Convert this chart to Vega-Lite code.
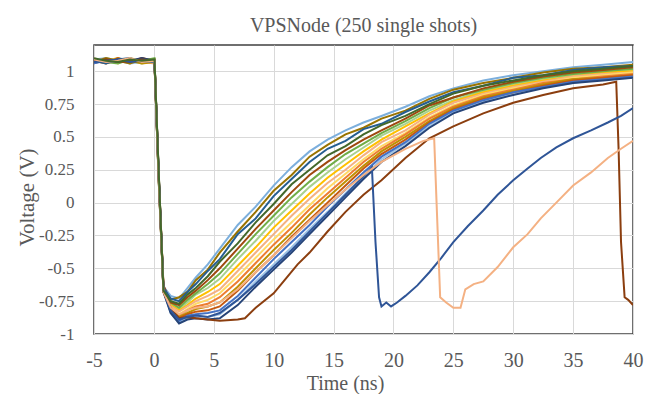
{
  "$schema": "https://vega.github.io/schema/vega-lite/v6.json",
  "autosize": {"type": "none"},
  "width": 539,
  "height": 289,
  "padding": {"left": 94, "top": 45, "right": 13, "bottom": 60},
  "background": "white",
  "title": {"text": "VPSNode (250 single shots)", "font": "Liberation Serif", "fontSize": 20, "fontWeight": "normal", "color": "#595959", "baseline": "alphabetic", "offset": 13, "dy": 20},
  "datasets": {
    "traces": [
      {"s":"s01","t":-5,"v":1.09},{"s":"s01","t":-4,"v":1.07},{"s":"s01","t":-3,"v":1.10},{"s":"s01","t":-2,"v":1.08},{"s":"s01","t":-1,"v":1.09},{"s":"s01","t":0.05,"v":1.08},{"s":"s01","t":0.4,"v":0.22},{"s":"s01","t":0.8,"v":-0.64},{"s":"s01","t":1.4,"v":-0.71},{"s":"s01","t":2.1,"v":-0.73},{"s":"s01","t":2.8,"v":-0.65},{"s":"s01","t":3.5,"v":-0.57},{"s":"s01","t":4.5,"v":-0.47},{"s":"s01","t":5.5,"v":-0.35},{"s":"s01","t":7,"v":-0.17},{"s":"s01","t":8.5,"v":-0.03},{"s":"s01","t":10,"v":0.13},{"s":"s01","t":11.5,"v":0.27},{"s":"s01","t":13,"v":0.39},{"s":"s01","t":14.5,"v":0.48},{"s":"s01","t":16,"v":0.55},{"s":"s01","t":17.5,"v":0.61},{"s":"s01","t":19,"v":0.66},{"s":"s01","t":21,"v":0.73},{"s":"s01","t":23,"v":0.81},{"s":"s01","t":25,"v":0.87},{"s":"s01","t":27.5,"v":0.93},{"s":"s01","t":30,"v":0.97},{"s":"s01","t":32.5,"v":1.00},{"s":"s01","t":35,"v":1.03},{"s":"s01","t":37.5,"v":1.05},{"s":"s01","t":40,"v":1.07},
      {"s":"s07","t":-5,"v":1.08},{"s":"s07","t":-4,"v":1.10},{"s":"s07","t":-3,"v":1.07},{"s":"s07","t":-2,"v":1.08},{"s":"s07","t":-1,"v":1.06},{"s":"s07","t":0.05,"v":1.08},{"s":"s07","t":0.4,"v":0.17},{"s":"s07","t":0.8,"v":-0.66},{"s":"s07","t":1.4,"v":-0.77},{"s":"s07","t":2.1,"v":-0.81},{"s":"s07","t":2.8,"v":-0.76},{"s":"s07","t":3.5,"v":-0.70},{"s":"s07","t":4.5,"v":-0.65},{"s":"s07","t":5.5,"v":-0.58},{"s":"s07","t":7,"v":-0.43},{"s":"s07","t":8.5,"v":-0.29},{"s":"s07","t":10,"v":-0.14},{"s":"s07","t":11.5,"v":-0.01},{"s":"s07","t":13,"v":0.12},{"s":"s07","t":14.5,"v":0.23},{"s":"s07","t":16,"v":0.33},{"s":"s07","t":17.5,"v":0.42},{"s":"s07","t":19,"v":0.51},{"s":"s07","t":21,"v":0.60},{"s":"s07","t":23,"v":0.70},{"s":"s07","t":25,"v":0.78},{"s":"s07","t":27.5,"v":0.85},{"s":"s07","t":30,"v":0.90},{"s":"s07","t":32.5,"v":0.94},{"s":"s07","t":35,"v":0.97},{"s":"s07","t":37.5,"v":1.00},{"s":"s07","t":40,"v":1.01},
      {"s":"s08","t":-5,"v":1.07},{"s":"s08","t":-4,"v":1.08},{"s":"s08","t":-3,"v":1.10},{"s":"s08","t":-2,"v":1.06},{"s":"s08","t":-1,"v":1.09},{"s":"s08","t":0.05,"v":1.08},{"s":"s08","t":0.4,"v":0.23},{"s":"s08","t":0.8,"v":-0.65},{"s":"s08","t":1.4,"v":-0.78},{"s":"s08","t":2.1,"v":-0.82},{"s":"s08","t":2.8,"v":-0.78},{"s":"s08","t":3.5,"v":-0.73},{"s":"s08","t":4.5,"v":-0.68},{"s":"s08","t":5.5,"v":-0.62},{"s":"s08","t":7,"v":-0.48},{"s":"s08","t":8.5,"v":-0.34},{"s":"s08","t":10,"v":-0.19},{"s":"s08","t":11.5,"v":-0.06},{"s":"s08","t":13,"v":0.07},{"s":"s08","t":14.5,"v":0.19},{"s":"s08","t":16,"v":0.29},{"s":"s08","t":17.5,"v":0.39},{"s":"s08","t":19,"v":0.48},{"s":"s08","t":21,"v":0.58},{"s":"s08","t":23,"v":0.68},{"s":"s08","t":25,"v":0.77},{"s":"s08","t":27.5,"v":0.84},{"s":"s08","t":30,"v":0.89},{"s":"s08","t":32.5,"v":0.93},{"s":"s08","t":35,"v":0.96},{"s":"s08","t":37.5,"v":0.99},{"s":"s08","t":40,"v":1.00},
      {"s":"s09","t":-5,"v":1.10},{"s":"s09","t":-4,"v":1.06},{"s":"s09","t":-3,"v":1.08},{"s":"s09","t":-2,"v":1.09},{"s":"s09","t":-1,"v":1.07},{"s":"s09","t":0.05,"v":1.06},{"s":"s09","t":0.4,"v":0.20},{"s":"s09","t":0.8,"v":-0.67},{"s":"s09","t":1.4,"v":-0.79},{"s":"s09","t":2.1,"v":-0.83},{"s":"s09","t":2.8,"v":-0.79},{"s":"s09","t":3.5,"v":-0.75},{"s":"s09","t":4.5,"v":-0.71},{"s":"s09","t":5.5,"v":-0.66},{"s":"s09","t":7,"v":-0.52},{"s":"s09","t":8.5,"v":-0.38},{"s":"s09","t":10,"v":-0.24},{"s":"s09","t":11.5,"v":-0.10},{"s":"s09","t":13,"v":0.03},{"s":"s09","t":14.5,"v":0.15},{"s":"s09","t":16,"v":0.25},{"s":"s09","t":17.5,"v":0.36},{"s":"s09","t":19,"v":0.46},{"s":"s09","t":21,"v":0.55},{"s":"s09","t":23,"v":0.67},{"s":"s09","t":25,"v":0.76},{"s":"s09","t":27.5,"v":0.83},{"s":"s09","t":30,"v":0.88},{"s":"s09","t":32.5,"v":0.92},{"s":"s09","t":35,"v":0.96},{"s":"s09","t":37.5,"v":0.98},{"s":"s09","t":40,"v":0.99},
      {"s":"s10","t":-5,"v":1.08},{"s":"s10","t":-4,"v":1.09},{"s":"s10","t":-3,"v":1.06},{"s":"s10","t":-2,"v":1.10},{"s":"s10","t":-1,"v":1.08},{"s":"s10","t":0.05,"v":1.09},{"s":"s10","t":0.4,"v":0.18},{"s":"s10","t":0.8,"v":-0.64},{"s":"s10","t":1.4,"v":-0.80},{"s":"s10","t":2.1,"v":-0.85},{"s":"s10","t":2.8,"v":-0.81},{"s":"s10","t":3.5,"v":-0.77},{"s":"s10","t":4.5,"v":-0.74},{"s":"s10","t":5.5,"v":-0.69},{"s":"s10","t":7,"v":-0.56},{"s":"s10","t":8.5,"v":-0.42},{"s":"s10","t":10,"v":-0.28},{"s":"s10","t":11.5,"v":-0.15},{"s":"s10","t":13,"v":-0.02},{"s":"s10","t":14.5,"v":0.11},{"s":"s10","t":16,"v":0.22},{"s":"s10","t":17.5,"v":0.33},{"s":"s10","t":19,"v":0.43},{"s":"s10","t":21,"v":0.53},{"s":"s10","t":23,"v":0.65},{"s":"s10","t":25,"v":0.74},{"s":"s10","t":27.5,"v":0.82},{"s":"s10","t":30,"v":0.87},{"s":"s10","t":32.5,"v":0.91},{"s":"s10","t":35,"v":0.95},{"s":"s10","t":37.5,"v":0.97},{"s":"s10","t":40,"v":0.99},
      {"s":"s15","t":-5,"v":1.09},{"s":"s15","t":-4,"v":1.10},{"s":"s15","t":-3,"v":1.08},{"s":"s15","t":-2,"v":1.06},{"s":"s15","t":-1,"v":1.07},{"s":"s15","t":0.05,"v":1.08},{"s":"s15","t":0.4,"v":0.20},{"s":"s15","t":0.8,"v":-0.66},{"s":"s15","t":1.4,"v":-0.84},{"s":"s15","t":2.1,"v":-0.91},{"s":"s15","t":2.8,"v":-0.88},{"s":"s15","t":3.5,"v":-0.86},{"s":"s15","t":4.5,"v":-0.87},{"s":"s15","t":5.5,"v":-0.85},{"s":"s15","t":7,"v":-0.74},{"s":"s15","t":8.5,"v":-0.60},{"s":"s15","t":10,"v":-0.47},{"s":"s15","t":11.5,"v":-0.34},{"s":"s15","t":13,"v":-0.20},{"s":"s15","t":14.5,"v":-0.07},{"s":"s15","t":16,"v":0.07},{"s":"s15","t":17.5,"v":0.20},{"s":"s15","t":19,"v":0.33},{"s":"s15","t":21,"v":0.45},{"s":"s15","t":23,"v":0.58},{"s":"s15","t":25,"v":0.69},{"s":"s15","t":27.5,"v":0.77},{"s":"s15","t":30,"v":0.83},{"s":"s15","t":32.5,"v":0.88},{"s":"s15","t":35,"v":0.91},{"s":"s15","t":37.5,"v":0.94},{"s":"s15","t":40,"v":0.95},
      {"s":"s11","t":-5,"v":1.09},{"s":"s11","t":-4,"v":1.07},{"s":"s11","t":-3,"v":1.09},{"s":"s11","t":-2,"v":1.07},{"s":"s11","t":-1,"v":1.10},{"s":"s11","t":0.05,"v":1.08},{"s":"s11","t":0.4,"v":0.22},{"s":"s11","t":0.8,"v":-0.66},{"s":"s11","t":1.4,"v":-0.81},{"s":"s11","t":2.1,"v":-0.86},{"s":"s11","t":2.8,"v":-0.82},{"s":"s11","t":3.5,"v":-0.79},{"s":"s11","t":4.5,"v":-0.77},{"s":"s11","t":5.5,"v":-0.72},{"s":"s11","t":7,"v":-0.60},{"s":"s11","t":8.5,"v":-0.46},{"s":"s11","t":10,"v":-0.32},{"s":"s11","t":11.5,"v":-0.19},{"s":"s11","t":13,"v":-0.05},{"s":"s11","t":14.5,"v":0.07},{"s":"s11","t":16,"v":0.19},{"s":"s11","t":17.5,"v":0.31},{"s":"s11","t":19,"v":0.41},{"s":"s11","t":21,"v":0.52},{"s":"s11","t":23,"v":0.64},{"s":"s11","t":25,"v":0.73},{"s":"s11","t":27.5,"v":0.81},{"s":"s11","t":30,"v":0.86},{"s":"s11","t":32.5,"v":0.91},{"s":"s11","t":35,"v":0.94},{"s":"s11","t":37.5,"v":0.96},{"s":"s11","t":40,"v":0.98},
      {"s":"s12","t":-5,"v":1.07},{"s":"s12","t":-4,"v":1.09},{"s":"s12","t":-3,"v":1.08},{"s":"s12","t":-2,"v":1.08},{"s":"s12","t":-1,"v":1.06},{"s":"s12","t":0.05,"v":1.07},{"s":"s12","t":0.4,"v":0.19},{"s":"s12","t":0.8,"v":-0.68},{"s":"s12","t":1.4,"v":-0.81},{"s":"s12","t":2.1,"v":-0.87},{"s":"s12","t":2.8,"v":-0.84},{"s":"s12","t":3.5,"v":-0.81},{"s":"s12","t":4.5,"v":-0.79},{"s":"s12","t":5.5,"v":-0.76},{"s":"s12","t":7,"v":-0.64},{"s":"s12","t":8.5,"v":-0.50},{"s":"s12","t":10,"v":-0.36},{"s":"s12","t":11.5,"v":-0.23},{"s":"s12","t":13,"v":-0.09},{"s":"s12","t":14.5,"v":0.04},{"s":"s12","t":16,"v":0.16},{"s":"s12","t":17.5,"v":0.28},{"s":"s12","t":19,"v":0.39},{"s":"s12","t":21,"v":0.50},{"s":"s12","t":23,"v":0.62},{"s":"s12","t":25,"v":0.72},{"s":"s12","t":27.5,"v":0.80},{"s":"s12","t":30,"v":0.85},{"s":"s12","t":32.5,"v":0.90},{"s":"s12","t":35,"v":0.94},{"s":"s12","t":37.5,"v":0.95},{"s":"s12","t":40,"v":0.97},
      {"s":"s13","t":-5,"v":1.08},{"s":"s13","t":-4,"v":1.06},{"s":"s13","t":-3,"v":1.10},{"s":"s13","t":-2,"v":1.07},{"s":"s13","t":-1,"v":1.09},{"s":"s13","t":0.05,"v":1.09},{"s":"s13","t":0.4,"v":0.21},{"s":"s13","t":0.8,"v":-0.65},{"s":"s13","t":1.4,"v":-0.82},{"s":"s13","t":2.1,"v":-0.88},{"s":"s13","t":2.8,"v":-0.85},{"s":"s13","t":3.5,"v":-0.83},{"s":"s13","t":4.5,"v":-0.82},{"s":"s13","t":5.5,"v":-0.79},{"s":"s13","t":7,"v":-0.67},{"s":"s13","t":8.5,"v":-0.53},{"s":"s13","t":10,"v":-0.40},{"s":"s13","t":11.5,"v":-0.26},{"s":"s13","t":13,"v":-0.13},{"s":"s13","t":14.5,"v":0.00},{"s":"s13","t":16,"v":0.13},{"s":"s13","t":17.5,"v":0.26},{"s":"s13","t":19,"v":0.37},{"s":"s13","t":21,"v":0.48},{"s":"s13","t":23,"v":0.61},{"s":"s13","t":25,"v":0.71},{"s":"s13","t":27.5,"v":0.79},{"s":"s13","t":30,"v":0.84},{"s":"s13","t":32.5,"v":0.89},{"s":"s13","t":35,"v":0.93},{"s":"s13","t":37.5,"v":0.95},{"s":"s13","t":40,"v":0.97},
      {"s":"s06","t":-5,"v":1.09},{"s":"s06","t":-4,"v":1.07},{"s":"s06","t":-3,"v":1.06},{"s":"s06","t":-2,"v":1.09},{"s":"s06","t":-1,"v":1.08},{"s":"s06","t":0.05,"v":1.10},{"s":"s06","t":0.4,"v":0.21},{"s":"s06","t":0.8,"v":-0.68},{"s":"s06","t":1.4,"v":-0.76},{"s":"s06","t":2.1,"v":-0.80},{"s":"s06","t":2.8,"v":-0.74},{"s":"s06","t":3.5,"v":-0.69},{"s":"s06","t":4.5,"v":-0.62},{"s":"s06","t":5.5,"v":-0.54},{"s":"s06","t":7,"v":-0.39},{"s":"s06","t":8.5,"v":-0.24},{"s":"s06","t":10,"v":-0.10},{"s":"s06","t":11.5,"v":0.04},{"s":"s06","t":13,"v":0.16},{"s":"s06","t":14.5,"v":0.27},{"s":"s06","t":16,"v":0.37},{"s":"s06","t":17.5,"v":0.45},{"s":"s06","t":19,"v":0.53},{"s":"s06","t":21,"v":0.62},{"s":"s06","t":23,"v":0.72},{"s":"s06","t":25,"v":0.80},{"s":"s06","t":27.5,"v":0.86},{"s":"s06","t":30,"v":0.91},{"s":"s06","t":32.5,"v":0.95},{"s":"s06","t":35,"v":0.98},{"s":"s06","t":37.5,"v":1.00},{"s":"s06","t":40,"v":1.02},
      {"s":"s02","t":-5,"v":1.07},{"s":"s02","t":-4,"v":1.10},{"s":"s02","t":-3,"v":1.08},{"s":"s02","t":-2,"v":1.06},{"s":"s02","t":-1,"v":1.09},{"s":"s02","t":0.05,"v":1.07},{"s":"s02","t":0.4,"v":0.18},{"s":"s02","t":0.8,"v":-0.66},{"s":"s02","t":1.4,"v":-0.74},{"s":"s02","t":2.1,"v":-0.72},{"s":"s02","t":2.8,"v":-0.68},{"s":"s02","t":3.5,"v":-0.59},{"s":"s02","t":4.5,"v":-0.51},{"s":"s02","t":5.5,"v":-0.38},{"s":"s02","t":7,"v":-0.22},{"s":"s02","t":8.5,"v":-0.07},{"s":"s02","t":10,"v":0.09},{"s":"s02","t":11.5,"v":0.21},{"s":"s02","t":13,"v":0.35},{"s":"s02","t":14.5,"v":0.44},{"s":"s02","t":16,"v":0.52},{"s":"s02","t":17.5,"v":0.57},{"s":"s02","t":19,"v":0.64},{"s":"s02","t":21,"v":0.70},{"s":"s02","t":23,"v":0.79},{"s":"s02","t":25,"v":0.86},{"s":"s02","t":27.5,"v":0.91},{"s":"s02","t":30,"v":0.95},{"s":"s02","t":32.5,"v":0.99},{"s":"s02","t":35,"v":1.02},{"s":"s02","t":37.5,"v":1.03},{"s":"s02","t":40,"v":1.05},
      {"s":"s05","t":-5,"v":1.06},{"s":"s05","t":-4,"v":1.09},{"s":"s05","t":-3,"v":1.08},{"s":"s05","t":-2,"v":1.07},{"s":"s05","t":-1,"v":1.10},{"s":"s05","t":0.05,"v":1.07},{"s":"s05","t":0.4,"v":0.19},{"s":"s05","t":0.8,"v":-0.63},{"s":"s05","t":1.4,"v":-0.76},{"s":"s05","t":2.1,"v":-0.78},{"s":"s05","t":2.8,"v":-0.72},{"s":"s05","t":3.5,"v":-0.67},{"s":"s05","t":4.5,"v":-0.59},{"s":"s05","t":5.5,"v":-0.50},{"s":"s05","t":7,"v":-0.35},{"s":"s05","t":8.5,"v":-0.20},{"s":"s05","t":10,"v":-0.06},{"s":"s05","t":11.5,"v":0.08},{"s":"s05","t":13,"v":0.21},{"s":"s05","t":14.5,"v":0.31},{"s":"s05","t":16,"v":0.40},{"s":"s05","t":17.5,"v":0.48},{"s":"s05","t":19,"v":0.55},{"s":"s05","t":21,"v":0.64},{"s":"s05","t":23,"v":0.74},{"s":"s05","t":25,"v":0.80},{"s":"s05","t":27.5,"v":0.87},{"s":"s05","t":30,"v":0.92},{"s":"s05","t":32.5,"v":0.96},{"s":"s05","t":35,"v":0.99},{"s":"s05","t":37.5,"v":1.01},{"s":"s05","t":40,"v":1.03},
      {"s":"s14","t":-5,"v":1.06},{"s":"s14","t":-4,"v":1.08},{"s":"s14","t":-3,"v":1.07},{"s":"s14","t":-2,"v":1.09},{"s":"s14","t":-1,"v":1.08},{"s":"s14","t":0.05,"v":1.07},{"s":"s14","t":0.4,"v":0.17},{"s":"s14","t":0.8,"v":-0.67},{"s":"s14","t":1.4,"v":-0.83},{"s":"s14","t":2.1,"v":-0.90},{"s":"s14","t":2.8,"v":-0.86},{"s":"s14","t":3.5,"v":-0.85},{"s":"s14","t":4.5,"v":-0.84},{"s":"s14","t":5.5,"v":-0.82},{"s":"s14","t":7,"v":-0.71},{"s":"s14","t":8.5,"v":-0.57},{"s":"s14","t":10,"v":-0.43},{"s":"s14","t":11.5,"v":-0.30},{"s":"s14","t":13,"v":-0.17},{"s":"s14","t":14.5,"v":-0.03},{"s":"s14","t":16,"v":0.10},{"s":"s14","t":17.5,"v":0.23},{"s":"s14","t":19,"v":0.35},{"s":"s14","t":21,"v":0.46},{"s":"s14","t":23,"v":0.60},{"s":"s14","t":25,"v":0.70},{"s":"s14","t":27.5,"v":0.78},{"s":"s14","t":30,"v":0.84},{"s":"s14","t":32.5,"v":0.88},{"s":"s14","t":35,"v":0.92},{"s":"s14","t":37.5,"v":0.94},{"s":"s14","t":40,"v":0.96},
      {"s":"s16","t":-5,"v":1.08},{"s":"s16","t":-4,"v":1.07},{"s":"s16","t":-3,"v":1.09},{"s":"s16","t":-2,"v":1.08},{"s":"s16","t":-1,"v":1.10},{"s":"s16","t":0.05,"v":1.08},{"s":"s16","t":0.4,"v":0.23},{"s":"s16","t":0.8,"v":-0.68},{"s":"s16","t":1.4,"v":-0.84},{"s":"s16","t":2.1,"v":-0.92},{"s":"s16","t":2.8,"v":-0.89},{"s":"s16","t":3.5,"v":-0.88},{"s":"s16","t":4.5,"v":-0.89},{"s":"s16","t":5.5,"v":-0.88},{"s":"s16","t":7,"v":-0.78},{"s":"s16","t":8.5,"v":-0.64},{"s":"s16","t":10,"v":-0.51},{"s":"s16","t":11.5,"v":-0.38},{"s":"s16","t":13,"v":-0.24},{"s":"s16","t":14.5,"v":-0.10},{"s":"s16","t":16,"v":0.04},{"s":"s16","t":17.5,"v":0.18},{"s":"s16","t":19,"v":0.31},{"s":"s16","t":21,"v":0.43},{"s":"s16","t":23,"v":0.57},{"s":"s16","t":25,"v":0.68},{"s":"s16","t":27.5,"v":0.76},{"s":"s16","t":30,"v":0.82},{"s":"s16","t":32.5,"v":0.87},{"s":"s16","t":35,"v":0.91},{"s":"s16","t":37.5,"v":0.93},{"s":"s16","t":40,"v":0.95},
      {"s":"s03","t":-5,"v":1.08},{"s":"s03","t":-4,"v":1.06},{"s":"s03","t":-3,"v":1.09},{"s":"s03","t":-2,"v":1.10},{"s":"s03","t":-1,"v":1.07},{"s":"s03","t":0.05,"v":1.08},{"s":"s03","t":0.4,"v":0.20},{"s":"s03","t":0.8,"v":-0.65},{"s":"s03","t":1.4,"v":-0.73},{"s":"s03","t":2.1,"v":-0.75},{"s":"s03","t":2.8,"v":-0.68},{"s":"s03","t":3.5,"v":-0.62},{"s":"s03","t":4.5,"v":-0.52},{"s":"s03","t":5.5,"v":-0.43},{"s":"s03","t":7,"v":-0.24},{"s":"s03","t":8.5,"v":-0.12},{"s":"s03","t":10,"v":0.05},{"s":"s03","t":11.5,"v":0.18},{"s":"s03","t":13,"v":0.31},{"s":"s03","t":14.5,"v":0.41},{"s":"s03","t":16,"v":0.47},{"s":"s03","t":17.5,"v":0.56},{"s":"s03","t":19,"v":0.60},{"s":"s03","t":21,"v":0.69},{"s":"s03","t":23,"v":0.77},{"s":"s03","t":25,"v":0.84},{"s":"s03","t":27.5,"v":0.89},{"s":"s03","t":30,"v":0.95},{"s":"s03","t":32.5,"v":0.97},{"s":"s03","t":35,"v":1.01},{"s":"s03","t":37.5,"v":1.03},{"s":"s03","t":40,"v":1.04},
      {"s":"s17","t":-5,"v":1.08},{"s":"s17","t":-4,"v":1.09},{"s":"s17","t":-3,"v":1.07},{"s":"s17","t":-2,"v":1.08},{"s":"s17","t":-1,"v":1.09},{"s":"s17","t":0.05,"v":1.08},{"s":"s17","t":0.4,"v":0.20},{"s":"s17","t":0.8,"v":-0.68},{"s":"s17","t":1.4,"v":-0.80},{"s":"s17","t":2.1,"v":-0.88},{"s":"s17","t":2.8,"v":-0.87},{"s":"s17","t":3.5,"v":-0.88},{"s":"s17","t":4.5,"v":-0.89},{"s":"s17","t":5.5,"v":-0.90},{"s":"s17","t":7,"v":-0.89},{"s":"s17","t":7.6,"v":-0.88},{"s":"s17","t":8.5,"v":-0.80},{"s":"s17","t":10,"v":-0.69},{"s":"s17","t":11,"v":-0.58},{"s":"s17","t":12,"v":-0.47},{"s":"s17","t":13,"v":-0.38},{"s":"s17","t":14.5,"v":-0.22},{"s":"s17","t":16,"v":-0.07},{"s":"s17","t":17.5,"v":0.06},{"s":"s17","t":19,"v":0.17},{"s":"s17","t":21,"v":0.34},{"s":"s17","t":23,"v":0.49},{"s":"s17","t":25,"v":0.58},{"s":"s17","t":27.5,"v":0.68},{"s":"s17","t":30,"v":0.76},{"s":"s17","t":32.5,"v":0.82},{"s":"s17","t":35,"v":0.87},{"s":"s17","t":37.5,"v":0.90},{"s":"s17","t":38.6,"v":0.92},{"s":"s17","t":38.8,"v":0.40},{"s":"s17","t":39.0,"v":-0.30},{"s":"s17","t":39.3,"v":-0.72},{"s":"s17","t":39.6,"v":-0.74},{"s":"s17","t":40,"v":-0.78},
      {"s":"s18","t":-5,"v":1.07},{"s":"s18","t":-4,"v":1.08},{"s":"s18","t":-3,"v":1.09},{"s":"s18","t":-2,"v":1.07},{"s":"s18","t":-1,"v":1.08},{"s":"s18","t":0.05,"v":1.08},{"s":"s18","t":0.4,"v":0.22},{"s":"s18","t":0.8,"v":-0.67},{"s":"s18","t":1.4,"v":-0.82},{"s":"s18","t":2.1,"v":-0.89},{"s":"s18","t":2.8,"v":-0.87},{"s":"s18","t":3.5,"v":-0.86},{"s":"s18","t":4.5,"v":-0.87},{"s":"s18","t":5.5,"v":-0.84},{"s":"s18","t":7,"v":-0.74},{"s":"s18","t":8.5,"v":-0.62},{"s":"s18","t":10,"v":-0.49},{"s":"s18","t":11.5,"v":-0.36},{"s":"s18","t":13,"v":-0.22},{"s":"s18","t":14.5,"v":-0.08},{"s":"s18","t":16,"v":0.06},{"s":"s18","t":17.5,"v":0.20},{"s":"s18","t":18.2,"v":0.27},{"s":"s18","t":18.5,"v":-0.30},{"s":"s18","t":18.8,"v":-0.72},{"s":"s18","t":19.0,"v":-0.79},{"s":"s18","t":19.4,"v":-0.76},{"s":"s18","t":19.8,"v":-0.79},{"s":"s18","t":20.3,"v":-0.76},{"s":"s18","t":21,"v":-0.71},{"s":"s18","t":22,"v":-0.63},{"s":"s18","t":23,"v":-0.53},{"s":"s18","t":24,"v":-0.42},{"s":"s18","t":25,"v":-0.30},{"s":"s18","t":26.2,"v":-0.18},{"s":"s18","t":27.5,"v":-0.06},{"s":"s18","t":28.7,"v":0.06},{"s":"s18","t":30,"v":0.17},{"s":"s18","t":31.2,"v":0.26},{"s":"s18","t":32.3,"v":0.34},{"s":"s18","t":33.6,"v":0.42},{"s":"s18","t":35,"v":0.49},{"s":"s18","t":36.5,"v":0.55},{"s":"s18","t":37.9,"v":0.61},{"s":"s18","t":39,"v":0.66},{"s":"s18","t":40,"v":0.72},
      {"s":"s19","t":-5,"v":1.09},{"s":"s19","t":-4,"v":1.07},{"s":"s19","t":-3,"v":1.08},{"s":"s19","t":-2,"v":1.10},{"s":"s19","t":-1,"v":1.07},{"s":"s19","t":0.05,"v":1.08},{"s":"s19","t":0.4,"v":0.18},{"s":"s19","t":0.8,"v":-0.68},{"s":"s19","t":1.4,"v":-0.80},{"s":"s19","t":2.1,"v":-0.85},{"s":"s19","t":2.8,"v":-0.82},{"s":"s19","t":3.5,"v":-0.80},{"s":"s19","t":4.5,"v":-0.79},{"s":"s19","t":5.5,"v":-0.76},{"s":"s19","t":7,"v":-0.66},{"s":"s19","t":8.5,"v":-0.53},{"s":"s19","t":10,"v":-0.40},{"s":"s19","t":11.5,"v":-0.27},{"s":"s19","t":13,"v":-0.14},{"s":"s19","t":14.5,"v":-0.02},{"s":"s19","t":16,"v":0.10},{"s":"s19","t":17.5,"v":0.21},{"s":"s19","t":19,"v":0.31},{"s":"s19","t":21,"v":0.41},{"s":"s19","t":22.5,"v":0.47},{"s":"s19","t":23.4,"v":0.49},{"s":"s19","t":23.6,"v":0.00},{"s":"s19","t":23.9,"v":-0.72},{"s":"s19","t":24.4,"v":-0.76},{"s":"s19","t":25,"v":-0.80},{"s":"s19","t":25.6,"v":-0.80},{"s":"s19","t":26.0,"v":-0.66},{"s":"s19","t":26.7,"v":-0.62},{"s":"s19","t":27.5,"v":-0.60},{"s":"s19","t":28.7,"v":-0.49},{"s":"s19","t":30,"v":-0.34},{"s":"s19","t":31.2,"v":-0.24},{"s":"s19","t":32.3,"v":-0.12},{"s":"s19","t":33.6,"v":0.00},{"s":"s19","t":35,"v":0.13},{"s":"s19","t":36.5,"v":0.23},{"s":"s19","t":37.9,"v":0.34},{"s":"s19","t":39,"v":0.41},{"s":"s19","t":40,"v":0.47},
      {"s":"s04","t":-5,"v":1.10},{"s":"s04","t":-4,"v":1.08},{"s":"s04","t":-3,"v":1.07},{"s":"s04","t":-2,"v":1.09},{"s":"s04","t":-1,"v":1.08},{"s":"s04","t":0.05,"v":1.09},{"s":"s04","t":0.4,"v":0.24},{"s":"s04","t":0.8,"v":-0.67},{"s":"s04","t":1.4,"v":-0.75},{"s":"s04","t":2.1,"v":-0.77},{"s":"s04","t":2.8,"v":-0.70},{"s":"s04","t":3.5,"v":-0.65},{"s":"s04","t":4.5,"v":-0.56},{"s":"s04","t":5.5,"v":-0.45},{"s":"s04","t":7,"v":-0.31},{"s":"s04","t":8.5,"v":-0.15},{"s":"s04","t":10,"v":-0.01},{"s":"s04","t":11.5,"v":0.14},{"s":"s04","t":13,"v":0.25},{"s":"s04","t":14.5,"v":0.36},{"s":"s04","t":16,"v":0.43},{"s":"s04","t":17.5,"v":0.52},{"s":"s04","t":19,"v":0.59},{"s":"s04","t":21,"v":0.66},{"s":"s04","t":23,"v":0.75},{"s":"s04","t":25,"v":0.83},{"s":"s04","t":27.5,"v":0.89},{"s":"s04","t":30,"v":0.93},{"s":"s04","t":32.5,"v":0.97},{"s":"s04","t":35,"v":1.00},{"s":"s04","t":37.5,"v":1.02},{"s":"s04","t":40,"v":1.04}
    ]
  },
  "data": {"name": "traces"},
  "mark": {"type": "line", "strokeWidth": 2, "clip": true},
  "encoding": {
    "x": {"field": "t", "type": "quantitative", "scale": {"domain": [-5, 40], "nice": false, "zero": false},
      "axis": {"title": "Time (ns)", "values": [-5, 0, 5, 10, 15, 20, 25, 30, 35, 40], "labelExpr": "toString(datum.value)", "labelFontSize": 20, "labelPadding": 16, "titleFontSize": 20, "titleX": 251, "titleY": 49, "titleBaseline": "middle", "labelFlush": false}},
    "y": {"field": "v", "type": "quantitative", "scale": {"domain": [-1, 1.2], "nice": false, "zero": false},
      "axis": {"title": "Voltage (V)", "values": [-1, -0.75, -0.5, -0.25, 0, 0.25, 0.5, 0.75, 1], "labelExpr": "toString(datum.value)", "labelFontSize": 17, "labelPadding": 20, "titleFontSize": 21, "titleX": -67, "titleY": 152, "titleAngle": 270, "titleBaseline": "middle", "labelFlush": false}},
    "color": {"field": "s", "type": "nominal", "legend": null,
      "scale": {"domain": ["s01","s02","s03","s04","s05","s06","s07","s08","s09","s10","s11","s12","s13","s14","s15","s16","s17","s18","s19"],
        "range": ["#7CAFDD","#997300","#255E91","#43682B","#9E480E","#70AD47","#A9D18E","#FFC000","#F4B183","#FFD966","#ED7D31","#BF9000","#C55A11","#4472C4","#9DC3E6","#264478","#8B3E0F","#2F5597","#F4B183"]}}
  },
  "config": {
    "view": {"stroke": "#404040", "strokeWidth": 1.5},
    "axis": {"grid": true, "gridColor": "#D9D9D9", "gridWidth": 1, "domain": false, "ticks": false, "labelFont": "Liberation Serif", "titleFont": "Liberation Serif", "labelColor": "#595959", "titleColor": "#595959", "titleFontWeight": "normal"}
  }
}
